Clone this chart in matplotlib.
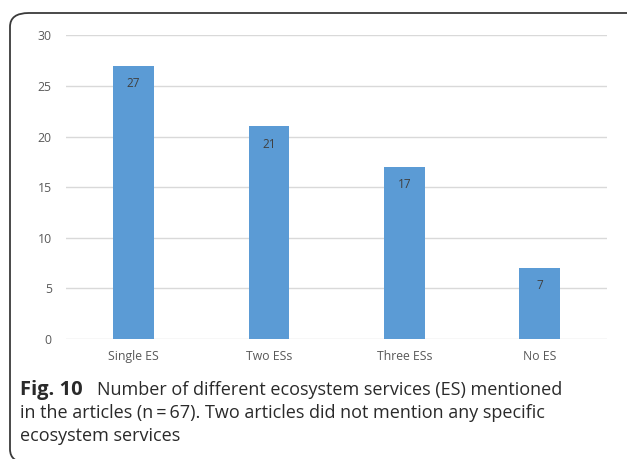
import matplotlib
matplotlib.use("Agg")
import matplotlib.pyplot as plt
from matplotlib.patches import FancyBboxPatch

categories = ["Single ES", "Two ESs", "Three ESs", "No ES"]
counts = [27, 21, 17, 7]
yticks = [0, 5, 10, 15, 20, 25, 30]

W, H = 627, 459
fig = plt.figure(figsize=(W/100, H/100), dpi=100)

# rounded frame around chart + caption, right side runs off the crop
box = FancyBboxPatch((10/W, -4/H), 640/W, (H-13+4)/H,
                     boxstyle="round,pad=0,rounding_size=0.03",
                     transform=fig.transFigure, fill=False,
                     ec="#3a3a3a", lw=1.3, clip_on=False)
fig.patches.append(box)

ax = fig.add_axes([65.7/W, 1-339/H, (607.5-65.7)/W, (339-35.3)/H])
x = range(len(categories))
ax.bar(x, counts, width=0.30, color="#5b9bd5", zorder=2)
for i, v in enumerate(counts):
    ax.text(i, v - 1.1, str(v), ha="center", va="top", fontsize=8.5,
            color="#404040", family="Open Sans")

ax.set_xlim(-0.5, len(categories)-0.5)
ax.set_ylim(0, 30)
ax.set_yticks(yticks)
ax.set_xticks(list(x))
ax.set_xticklabels(categories)
ax.yaxis.grid(True, color="#d9d9d9", lw=1)
ax.set_axisbelow(True)
for s in ax.spines.values():
    s.set_visible(False)
ax.tick_params(length=0, labelsize=8.8, colors="#595959")
for lab in ax.get_xticklabels() + ax.get_yticklabels():
    lab.set_family("Open Sans")
ax.tick_params(axis="x", pad=8)
ax.tick_params(axis="y", pad=10)

cap = dict(fontsize=13, family="Open Sans", va="baseline", color="#2a2a2a")
fig.text(20/W, 1-395/H, "Fig. 10", fontweight="bold",
         **{**cap, "fontsize": 14.5})
fig.text(97/W, 1-395/H, "Number of different ecosystem services (ES) mentioned", **cap)
fig.text(20/W, 1-418/H,
         "in the articles (n\u2009=\u200967). Two articles did not mention any specific", **cap)
fig.text(20/W, 1-441/H, "ecosystem services", **cap)

fig.savefig("out.png", dpi=100)
